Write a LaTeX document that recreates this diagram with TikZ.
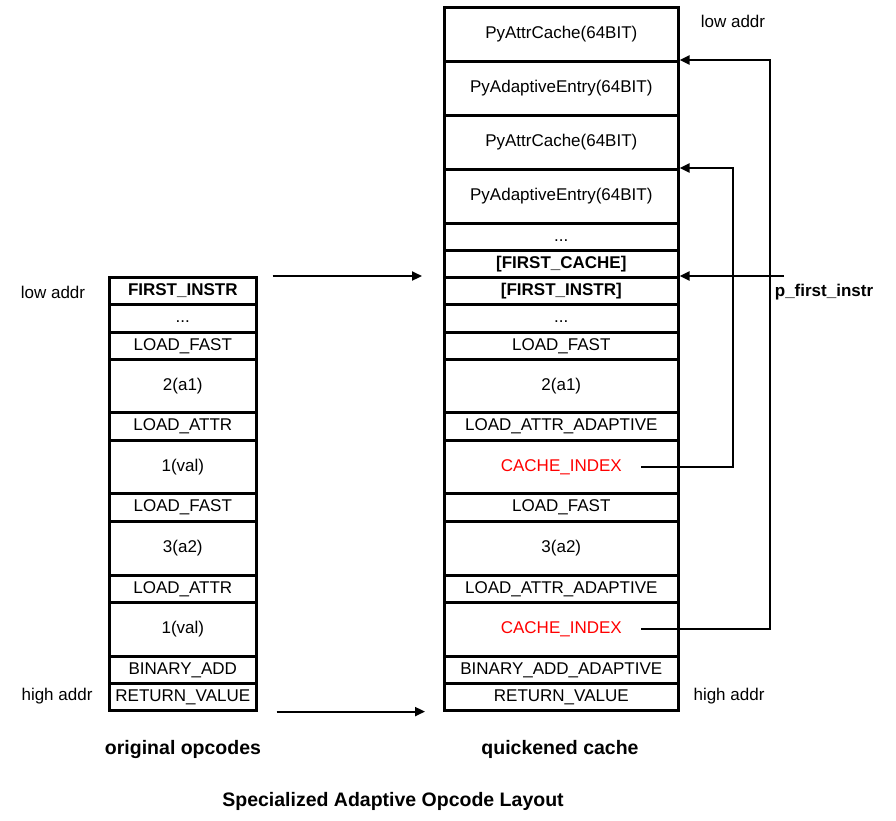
\documentclass[tikz,border=0pt]{standalone}
\usepackage{fontspec}
\setmainfont{Liberation Sans}
\usetikzlibrary{arrows.meta}

\newcommand{\celldots}{...}

\tikzset{
	cell/.style={draw, line width=2.6pt, inner sep=0pt, anchor=north west, text height=12.5pt, text depth=3.5pt},
	link/.style={line width=2.2pt, -{Triangle[length=10pt,width=9pt]}},
	caption/.style={font=\fontsize{19.5}{23}\selectfont\bfseries}
}

\begin{document}
\begin{tikzpicture}[x=1pt, y=-1pt, font=\fontsize{17}{20}\selectfont]
	\useasboundingbox (0,0) rectangle (896,820);
	%% quickened cache
	\foreach \n/\y/\h/\t in {1/6/54/PyAttrCache(64BIT), 2/60/54/PyAdaptiveEntry(64BIT), 3/114/54/PyAttrCache(64BIT), 4/168/54/PyAdaptiveEntry(64BIT), 5/222/27/\celldots, 6/249/27/\textbf{[FIRST\_CACHE]}, 7/276/27/\textbf{[FIRST\_INSTR]}, 8/303/28/\celldots, 9/331/27/LOAD\_FAST, 10/358/53/2(a1), 11/411/28/LOAD\_ATTR\_ADAPTIVE, 12/439/53/\textcolor{red}{CACHE\_INDEX}, 13/492/28/LOAD\_FAST, 14/520/54/3(a2), 15/574/27/LOAD\_ATTR\_ADAPTIVE, 16/601/54/\textcolor{red}{CACHE\_INDEX}, 17/655/27/BINARY\_ADD\_ADAPTIVE, 18/682/27/RETURN\_VALUE}
		\node[cell, minimum width=234pt, minimum height=\h pt] (r\n) at (443,\y) {\t};
	%% original opcodes
	\foreach \n/\y/\h/\t in {1/276/27/\textbf{FIRST\_INSTR}, 2/303/28/\celldots, 3/331/27/LOAD\_FAST, 4/358/53/2(a1), 5/411/28/LOAD\_ATTR, 6/439/53/1(val), 7/492/28/LOAD\_FAST, 8/520/54/3(a2), 9/574/27/LOAD\_ATTR, 10/601/54/1(val), 11/655/27/BINARY\_ADD, 12/682/27/RETURN\_VALUE}
		\node[cell, minimum width=147pt, minimum height=\h pt] (l\n) at (108,\y) {\t};

	\node (lowl) at (53,292) {low addr};
	\node (highl) at (57,696) {high addr};
	\node (lowr) at (733,21) {low addr};
	\node (highr) at (729,696) {high addr};
	\node[font=\fontsize{17}{20}\selectfont\bfseries] (pfi) at (824,292) {p\_first\_instr};
	\coordinate (pstart) at (784,276);

	\node[caption] (orig) at (183,749) {original opcodes};
	\node[caption] (quick) at (560,749) {quickened cache};
	\node[caption] (title) at (393,801) {Specialized Adaptive Opcode Layout};

	\draw [link] ([xshift=15pt]l1.north east) -- ([xshift=-21pt]r7.north west);
	\draw [link] ([xshift=19pt]l12.south east) -- ([xshift=-18pt]r18.south west);
	\draw [link] (pstart) -- (r7.north east);
	\draw [link] ([xshift=80pt]r12.center) -- ++(92,0) |- (r4.north east);
	\draw [link] ([xshift=80pt]r16.center) -- ++(129,0) |- (r2.north east);
\end{tikzpicture}
\end{document}
